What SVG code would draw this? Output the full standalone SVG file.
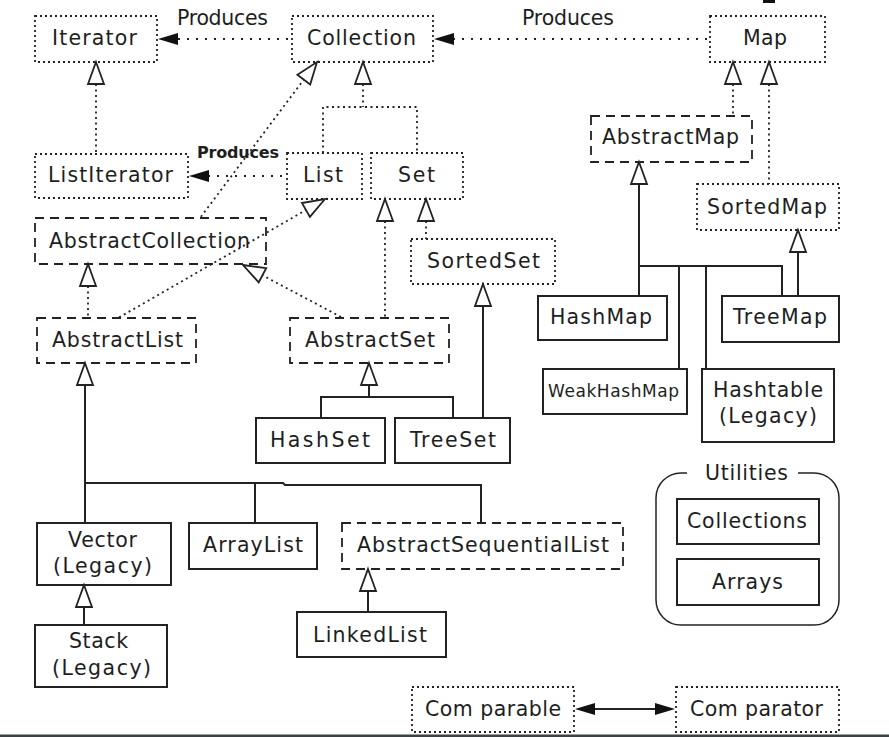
<svg xmlns="http://www.w3.org/2000/svg" xmlns:xlink="http://www.w3.org/1999/xlink" width="889" height="737" viewBox="0 0 889 737">
  <style>
    .t { font-family: "DejaVu Sans", "Liberation Sans", sans-serif; font-size: 20.5px; fill: #1e1e1e; text-anchor: middle; }
    .small { font-size: 16px; font-weight: bold; }
    .narrow { font-size: 17px; }
    .dot { fill: none; stroke: #222; stroke-width: 1.8; stroke-dasharray: 2 3; }
    .dash { fill: none; stroke: #222; stroke-width: 1.8; stroke-dasharray: 9 6; }
    .solid { fill: none; stroke: #222; stroke-width: 2; }
    .thin { fill: none; stroke: #222; stroke-width: 1.5; }
    .cd { fill: none; stroke: #222; stroke-width: 1.8; stroke-dasharray: 2 3.5; }
    .cp { fill: none; stroke: #222; stroke-width: 1.8; stroke-dasharray: 2 7; }
    .cs { fill: none; stroke: #222; stroke-width: 2; }
    .tri { fill: #fff; stroke: #222; stroke-width: 1.8; stroke-linejoin: miter; }
    .head { fill: #111; stroke: none; }
  </style>
  <defs>
    <!-- hollow generalisation head, tip at origin, opening downward -->
    <path id="tri" class="tri" d="M0,0 L8,22 L-8,22 Z"/>
    <!-- filled head pointing left, tip at origin -->
    <path id="head" class="head" d="M0,0 L20,-6 L20,6 Z"/>
  </defs>

  <rect width="889" height="737" fill="#fff"/>

  <!-- interfaces and classes -->
  <g id="iterator">
    <rect class="dot" x="35" y="16" width="122" height="46"/>
    <text class="t" x="94.5" y="44.5" textLength="85">Iterator</text>
  </g>
  <g id="collection">
    <rect class="dot" x="292" y="16" width="141" height="46"/>
    <text class="t" x="361.5" y="44.5" textLength="109">Collection</text>
  </g>
  <g id="map">
    <rect class="dot" x="710" y="16" width="115" height="46"/>
    <text class="t" x="765" y="44.5" textLength="44">Map</text>
  </g>
  <g id="listIterator">
    <rect class="dot" x="35" y="154" width="153" height="44"/>
    <text class="t" x="110.5" y="182" textLength="125">ListIterator</text>
  </g>
  <g id="list">
    <rect class="dot" x="287" y="153" width="75" height="46"/>
    <text class="t" x="323" y="182" textLength="40">List</text>
  </g>
  <g id="set">
    <rect class="dot" x="371" y="153" width="92" height="46"/>
    <text class="t" x="416.5" y="182" textLength="37">Set</text>
  </g>
  <g id="abstractCollection">
    <rect class="dash" x="35" y="218" width="231" height="46"/>
    <text class="t" x="149.5" y="248" textLength="201">AbstractCollection</text>
  </g>
  <g id="abstractMap">
    <rect class="dash" x="591" y="116" width="161" height="46"/>
    <text class="t" x="670.5" y="143.5" textLength="137">AbstractMap</text>
  </g>
  <g id="sortedMap">
    <rect class="dot" x="697" y="184" width="142" height="46"/>
    <text class="t" x="767" y="213.5" textLength="120">SortedMap</text>
  </g>
  <g id="sortedSet">
    <rect class="dot" x="411" y="239" width="144" height="45"/>
    <text class="t" x="483.5" y="268" textLength="113">SortedSet</text>
  </g>
  <g id="abstractList">
    <rect class="dash" x="37" y="318" width="159" height="45"/>
    <text class="t" x="117.5" y="347" textLength="131">AbstractList</text>
  </g>
  <g id="abstractSet">
    <rect class="dash" x="290" y="318" width="159" height="45"/>
    <text class="t" x="370" y="347" textLength="130">AbstractSet</text>
  </g>
  <g id="hashMap">
    <rect class="solid" x="538" y="296" width="129" height="44"/>
    <text class="t" x="601" y="323.5" textLength="102">HashMap</text>
  </g>
  <g id="treeMap">
    <rect class="solid" x="722" y="296" width="117" height="46"/>
    <text class="t" x="780" y="324" textLength="94">TreeMap</text>
  </g>
  <g id="weakHashMap">
    <rect class="solid" x="543" y="369" width="144" height="45"/>
    <text class="t narrow" x="613.5" y="397" textLength="131">WeakHashMap</text>
  </g>
  <g id="hashtable">
    <rect class="solid" x="702" y="369" width="132" height="73"/>
    <text class="t" x="768" y="397" textLength="110">Hashtable</text>
    <text class="t" x="768" y="423" textLength="98">(Legacy)</text>
  </g>
  <g id="hashSet">
    <rect class="solid" x="256" y="418" width="129" height="45"/>
    <text class="t" x="320" y="447" textLength="100">HashSet</text>
  </g>
  <g id="treeSet">
    <rect class="solid" x="395" y="418" width="115" height="45"/>
    <text class="t" x="453" y="447" textLength="86">TreeSet</text>
  </g>
  <g id="vector">
    <rect class="solid" x="37" y="523" width="134" height="62"/>
    <text class="t" x="102.5" y="547" textLength="69">Vector</text>
    <text class="t" x="102.5" y="573" textLength="99">(Legacy)</text>
  </g>
  <g id="stack">
    <rect class="solid" x="35" y="625" width="132" height="62"/>
    <text class="t" x="98.5" y="648" textLength="59">Stack</text>
    <text class="t" x="101.5" y="675" textLength="99">(Legacy)</text>
  </g>
  <g id="arrayList">
    <rect class="solid" x="189" y="523" width="128" height="46"/>
    <text class="t" x="253" y="552" textLength="100">ArrayList</text>
  </g>
  <g id="abstractSequentialList">
    <rect class="dash" x="342" y="523" width="281" height="46"/>
    <text class="t" x="483" y="552" textLength="252">AbstractSequentialList</text>
  </g>
  <g id="linkedList">
    <rect class="solid" x="297" y="612" width="149" height="45"/>
    <text class="t" x="370" y="642" textLength="114">LinkedList</text>
  </g>
  <g id="utilities">
    <path class="thin" d="M687,473 H681 A25,25 0 0 0 656,498 V600 A25,25 0 0 0 681,625 H814 A25,25 0 0 0 839,600 V498 A25,25 0 0 0 814,473 H798"/>
    <text class="t" x="746.5" y="479.5" textLength="83">Utilities</text>
  </g>
  <g id="collections">
    <rect class="solid" x="677" y="499" width="142" height="45"/>
    <text class="t" x="747" y="528" textLength="120">Collections</text>
  </g>
  <g id="arrays">
    <rect class="solid" x="677" y="559" width="142" height="46"/>
    <text class="t" x="747.5" y="589" textLength="71">Arrays</text>
  </g>
  <g id="comparable">
    <rect class="dot" x="412" y="687" width="162" height="45"/>
    <text class="t" x="493" y="715.5" textLength="136">Com parable</text>
  </g>
  <g id="comparator">
    <rect class="dot" x="676" y="687" width="163" height="45"/>
    <text class="t" x="756.5" y="715.5" textLength="133">Com parator</text>
  </g>

  <!-- relations -->
  <g id="connectors">
    <!-- "Produces" links -->
    <line class="cp" x1="178" y1="39" x2="292" y2="39"/>
    <use xlink:href="#head" href="#head" x="158" y="39"/>
    <text class="t" x="222.5" y="24.5" textLength="91">Produces</text>
    <line class="cp" x1="453" y1="39" x2="710" y2="39"/>
    <use xlink:href="#head" href="#head" x="434" y="39"/>
    <text class="t" x="568" y="24.5" textLength="92">Produces</text>
    <line class="cp" x1="208" y1="176" x2="287" y2="176"/>
    <use xlink:href="#head" href="#head" x="189" y="176"/>
    <text class="t small" x="238" y="157.5" textLength="82">Produces</text>

    <!-- interface inheritance (dotted) -->
    <line class="cd" x1="96" y1="84" x2="96" y2="154"/>
    <use xlink:href="#tri" href="#tri" x="96" y="62"/>

    <polyline class="cd" points="363,84 363,107"/>
    <polyline class="cd" points="323,153 323,107 417,107 417,153"/>
    <use xlink:href="#tri" href="#tri" x="363" y="62"/>

    <line class="cd" x1="304.4" y1="78.8" x2="200" y2="218"/>
    <use xlink:href="#tri" href="#tri" transform="translate(317,62) rotate(36.87)"/>

    <line class="cd" x1="306.8" y1="209.5" x2="118" y2="318"/>
    <use xlink:href="#tri" href="#tri" transform="translate(325,199) rotate(60.1)"/>

    <line class="cd" x1="88" y1="286" x2="88" y2="318"/>
    <use xlink:href="#tri" href="#tri" x="88" y="264"/>

    <line class="cd" x1="261.5" y1="274.8" x2="343" y2="318"/>
    <use xlink:href="#tri" href="#tri" transform="translate(243,265) rotate(-62.1)"/>

    <line class="cd" x1="385" y1="221" x2="385" y2="318"/>
    <use xlink:href="#tri" href="#tri" x="385" y="199"/>

    <line class="cd" x1="426" y1="221" x2="426" y2="239"/>
    <use xlink:href="#tri" href="#tri" x="426" y="199"/>

    <line class="cd" x1="733" y1="84" x2="733" y2="116"/>
    <use xlink:href="#tri" href="#tri" x="733" y="62"/>

    <line class="cd" x1="769" y1="84" x2="769" y2="184"/>
    <use xlink:href="#tri" href="#tri" x="769" y="62"/>

    <!-- class inheritance (solid) -->
    <line class="cs" x1="483" y1="306" x2="483" y2="418"/>
    <use xlink:href="#tri" href="#tri" x="483" y="284"/>

    <polyline class="cs" points="369,385 369,397"/>
    <polyline class="cs" points="321,418 321,397 453,397 453,418"/>
    <use xlink:href="#tri" href="#tri" x="369" y="363"/>

    <polyline class="cs" points="85,385 85,523"/>
    <polyline class="cs" points="85,483 283,483 285,485 481,485 481,523"/>
    <line class="cs" x1="255" y1="483" x2="255" y2="523"/>
    <use xlink:href="#tri" href="#tri" x="85" y="363"/>

    <line class="cs" x1="368" y1="591" x2="368" y2="612"/>
    <use xlink:href="#tri" href="#tri" x="368" y="569"/>

    <line class="cs" x1="84" y1="607" x2="84" y2="625"/>
    <use xlink:href="#tri" href="#tri" x="84" y="585"/>

    <polyline class="cs" points="639,184 639,296"/>
    <polyline class="cs" points="639,266 782,266 782,296"/>
    <line class="cs" x1="679" y1="266" x2="679" y2="369"/>
    <line class="cs" x1="706" y1="266" x2="706" y2="369"/>
    <use xlink:href="#tri" href="#tri" x="639" y="162"/>

    <line class="cs" x1="798" y1="252" x2="798" y2="296"/>
    <use xlink:href="#tri" href="#tri" x="798" y="230"/>

    <!-- Comparable / Comparator -->
    <line class="cs" x1="594" y1="709" x2="656" y2="709"/>
    <use xlink:href="#head" href="#head" x="575" y="709"/>
    <use xlink:href="#head" href="#head" transform="translate(675,709) scale(-1,1)"/>
  </g>

  <!-- edge marks -->
  <rect x="763" y="0" width="12" height="3" fill="#111"/>
  <rect x="0" y="734.5" width="889" height="2.5" fill="#394245"/>
</svg>
